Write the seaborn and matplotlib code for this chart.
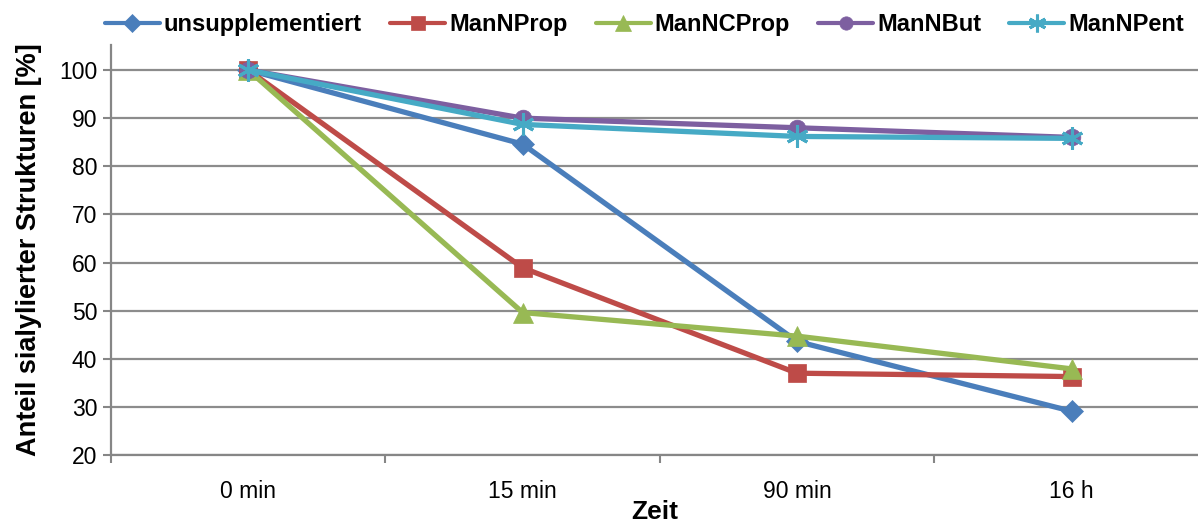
import matplotlib
matplotlib.use("Agg")
import matplotlib.pyplot as plt
import seaborn as sns
import pandas as pd

categories = ["0 min", "15 min", "90 min", "16 h"]
series_names = ["unsupplementiert", "ManNProp", "ManNCProp", "ManNBut", "ManNPent"]
unsupplementiert = [100, 84.6, 43.6, 29.1]
manNProp = [100, 58.9, 37.0, 36.3]
manNCProp = [100, 49.6, 44.7, 37.9]
manNBut = [100, 90.0, 88.0, 86.0]
manNPent = [100, 88.7, 86.2, 85.8]
yticks = [20, 30, 40, 50, 60, 70, 80, 90, 100]

values = [unsupplementiert, manNProp, manNCProp, manNBut, manNPent]
rows = []
for name, vals in zip(series_names, values):
    for c, v in zip(categories, vals):
        rows.append({"Zeit": c, "Wert": v, "Serie": name})
df = pd.DataFrame(rows)

colors = {"unsupplementiert": "#4A7EBB", "ManNProp": "#BE4B48", "ManNCProp": "#98B954",
          "ManNBut": "#7D5FA0", "ManNPent": "#46AAC5"}
markers = {"unsupplementiert": "D", "ManNProp": "s", "ManNCProp": "^",
           "ManNBut": "o", "ManNPent": (6, 2, 0)}
msizes = {"unsupplementiert": 11, "ManNProp": 13, "ManNCProp": 14,
          "ManNBut": 12, "ManNPent": 16}

sns.set_theme(style="white")
plt.rcParams['font.family'] = ['Liberation Sans', 'DejaVu Sans']
plt.rcParams['text.color'] = 'black'
plt.rcParams['axes.labelcolor'] = 'black'
plt.rcParams['xtick.color'] = 'black'
plt.rcParams['ytick.color'] = 'black'

fig = plt.figure(figsize=(11.98, 5.22), dpi=100)
ax = fig.add_axes([111/1198, 1 - 455/522, 1 - 111/1198, (455 - 45)/522])

for i, name in enumerate(series_names):
    sub = df[df["Serie"] == name]
    sns.lineplot(data=sub, x="Zeit", y="Wert", ax=ax, color=colors[name],
                 marker=markers[name], markersize=msizes[name], linewidth=3.8,
                 markeredgewidth=2.2 if name == "ManNPent" else 0.5,
                 markeredgecolor=colors[name], label=name, sort=False, zorder=3 + i)

ax.set_xlim(-0.5, (1198 - 248) / 274.5)
ax.set_ylim(20, 105.2)
ax.set_yticks(yticks)
ax.set_xticks(range(len(categories)))
ax.set_xticklabels(categories)
ax.xaxis.set_minor_locator(matplotlib.ticker.FixedLocator([-0.5, 0.5, 1.5, 2.5]))
ax.tick_params(axis="x", which="major", length=0, labelsize=16.5, pad=18, labelcolor="black")
ax.tick_params(axis="x", which="minor", length=6, width=1.5, color="#868686", direction="out", bottom=True)
ax.tick_params(axis="y", length=6, width=1.5, color="#868686", labelsize=16.5, direction="out",
               left=True, pad=4, labelcolor="black")
ax.grid(axis="y", color="#8C8C8C", linewidth=1.6)
ax.grid(axis="x", visible=False)
for s in ["top", "right"]:
    ax.spines[s].set_visible(False)
for s in ["left", "bottom"]:
    ax.spines[s].set_color("#868686")
    ax.spines[s].set_linewidth(1.6)

ax.set_xlabel("Zeit", fontsize=19, fontweight="bold", labelpad=-2, color="black")
ax.set_ylabel("Anteil sialylierter Strukturen [%]", fontsize=19.5, fontweight="bold",
              labelpad=12, color="black")

handles, labels = ax.get_legend_handles_labels()
ax.get_legend().remove()
leg = fig.legend(handles, labels, loc="upper center", bbox_to_anchor=(0.538, 1.015), ncol=5,
                 frameon=False, prop={"weight": "bold", "size": 17}, handlelength=2.33,
                 handletextpad=0.17, columnspacing=1.19, labelcolor="black", markerscale=0.8)
for h in leg.legend_handles:
    h.set_linewidth(3.0)

fig.savefig("out.png", dpi=100)
